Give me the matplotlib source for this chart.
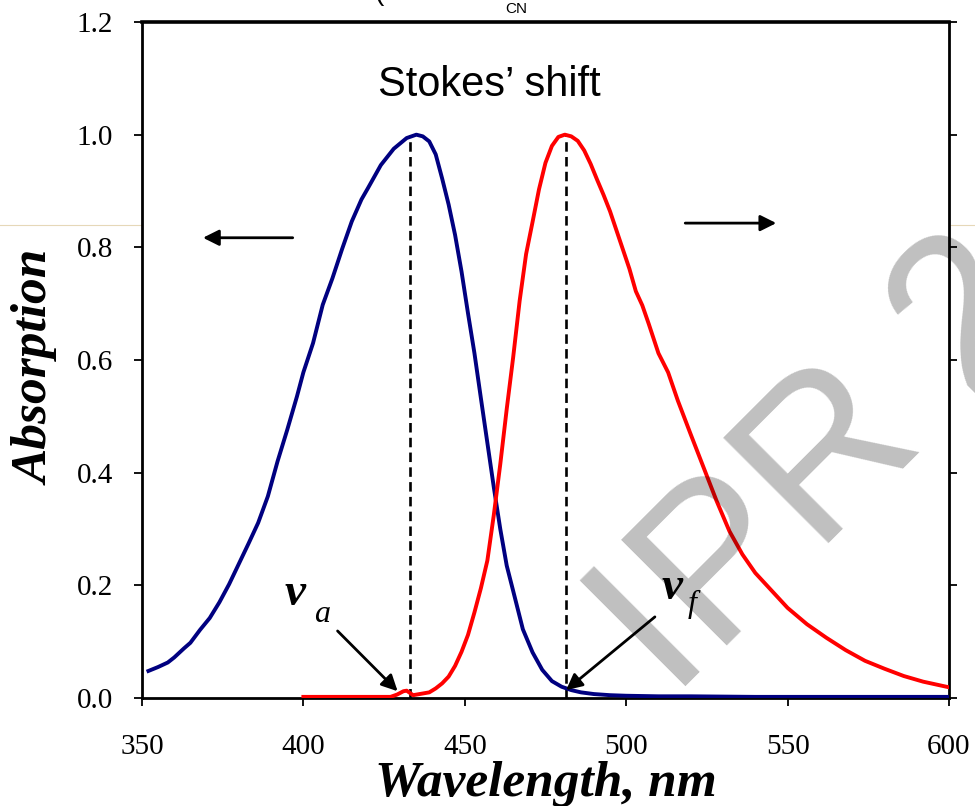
import matplotlib
matplotlib.use("Agg")
import matplotlib.pyplot as plt
from matplotlib.lines import Line2D

# absorption (blue) and emission (red) spectra
abs_wl = [352, 355, 358, 360, 363, 365, 368, 371, 374, 377, 380, 383, 386, 389,
          392, 395, 398, 400, 403, 406, 409, 412, 415, 418, 420, 424, 428, 432,
          435, 437, 439, 441, 443, 445, 447, 449, 451, 453, 455, 457, 459, 461,
          463, 465, 468, 471, 474, 477, 480, 483, 486, 490, 495, 500, 510, 520,
          540, 560, 580, 600]
abs_val = [0.048, 0.055, 0.063, 0.072, 0.088, 0.098, 0.121, 0.142, 0.170, 0.202,
           0.238, 0.274, 0.311, 0.358, 0.420, 0.476, 0.535, 0.578, 0.630, 0.698,
           0.745, 0.797, 0.846, 0.885, 0.905, 0.946, 0.975, 0.994, 1.000, 0.997,
           0.988, 0.965, 0.922, 0.876, 0.822, 0.757, 0.683, 0.612, 0.532, 0.453,
           0.374, 0.300, 0.235, 0.190, 0.122, 0.081, 0.050, 0.030, 0.020, 0.014,
           0.010, 0.007, 0.005, 0.004, 0.003, 0.003, 0.002, 0.002, 0.002, 0.002]

em_wl = [400, 410, 420, 427, 429, 431, 432, 433, 434, 435, 437, 439, 441, 443,
         445, 447, 449, 451, 453, 455, 457, 459, 461, 463, 465, 467, 469, 471,
         473, 475, 477, 479, 481, 483, 485, 487, 489, 491, 493, 495, 497, 499,
         501, 503, 505, 507, 510, 513, 516, 520, 524, 528, 532, 536, 540, 545,
         550, 556, 562, 568, 574, 580, 586, 592, 600]
em_val = [0.002, 0.002, 0.002, 0.002, 0.006, 0.012, 0.013, 0.009, 0.005, 0.006,
          0.008, 0.010, 0.017, 0.026, 0.038, 0.057, 0.082, 0.112, 0.152, 0.195,
          0.244, 0.325, 0.415, 0.513, 0.605, 0.705, 0.788, 0.845, 0.903, 0.950,
          0.980, 0.996, 1.000, 0.997, 0.989, 0.972, 0.948, 0.920, 0.893, 0.864,
          0.830, 0.796, 0.762, 0.722, 0.697, 0.664, 0.612, 0.578, 0.528, 0.468,
          0.409, 0.350, 0.296, 0.255, 0.222, 0.191, 0.160, 0.131, 0.107, 0.085,
          0.066, 0.052, 0.039, 0.029, 0.019]

peak_abs = 433.0
peak_em = 481.5

x_ticks = [350, 400, 450, 500, 550, 600]
y_ticks = [0.0, 0.2, 0.4, 0.6, 0.8, 1.0, 1.2]
y_ticklabels = ["0.0", "0.2", "0.4", "0.6", "0.8", "1.0", "1.2"]
right_ticklabels = ["0", "2", "4", "6", "8", "10", "12"]

SERIF = "Liberation Serif"
SANS = "Liberation Sans"

fig = plt.figure(figsize=(9.75, 8.06), dpi=100)
ax = fig.add_axes([0.1456, 0.134, 0.8277, 0.8387])

ax.plot(abs_wl, abs_val, color="#000080", lw=2.8, zorder=3)
ax.plot(em_wl, em_val, color="#ff0000", lw=2.8, zorder=3)

for xp in (peak_abs, peak_em):
    ax.plot([xp, xp], [0, 1.0], color="black", lw=1.9, dashes=(3.6, 2.0), zorder=2)

ax.set_xlim(350, 600)
ax.set_ylim(0, 1.2)
ax.set_xticks(x_ticks)
ax.set_yticks(y_ticks)
ax.set_yticklabels(y_ticklabels)
for lab in ax.get_xticklabels() + ax.get_yticklabels():
    lab.set_fontfamily(SERIF)
    lab.set_fontsize(21)
ax.tick_params(axis="both", direction="out", length=6, width=1.3)
ax.tick_params(axis="x", pad=20)
ax.tick_params(axis="y", pad=15)

for side in ("left", "right", "bottom"):
    ax.spines[side].set_linewidth(2.0)
ax.spines["top"].set_linewidth(2.6)

ax2 = ax.twinx()
ax2.set_ylim(0, 1.2)
ax2.set_yticks(y_ticks)
ax2.set_yticklabels(right_ticklabels, fontfamily=SERIF, fontsize=21)
ax2.tick_params(axis="y", direction="out", length=6, width=1.3, pad=16)
for sp in ax2.spines.values():
    sp.set_visible(False)

ax.set_xlabel("Wavelength, nm", fontfamily=SERIF, fontsize=37,
              fontweight="bold", fontstyle="italic")
ax.xaxis.set_label_coords(0.5, -0.093)
ax.set_ylabel("Absorption", fontfamily=SERIF, fontsize=37,
              fontweight="bold", fontstyle="italic")
ax.yaxis.set_label_coords(-0.102, 0.489)

ax.text(457.7, 1.088, "Stokes\u2019 shift", family=SANS, fontsize=30,
        ha="center", va="center")

# direction arrows (which axis belongs to which curve)
arrow = dict(arrowstyle="-|>", mutation_scale=24, lw=2, color="black",
             shrinkA=0, shrinkB=0)
ax.annotate("", xy=(368.9, 0.817), xytext=(396.7, 0.817), arrowprops=arrow)
ax.annotate("", xy=(546.5, 0.843), xytext=(518.3, 0.843), arrowprops=arrow)

# nu_a / nu_f labels with their pointers
ax.text(394.2, 0.165, "\u03bd", family=SERIF, fontsize=34, fontweight="bold",
        fontstyle="italic", ha="left", va="baseline")
ax.text(403.2, 0.135, "a", family=SERIF, fontsize=23, fontstyle="italic",
        ha="left", va="baseline")
ax.text(510.9, 0.176, "\u03bd", family=SERIF, fontsize=34, fontweight="bold",
        fontstyle="italic", ha="left", va="baseline")
ax.text(519.0, 0.153, "f", family=SERIF, fontsize=23, fontstyle="italic",
        ha="left", va="baseline")
ax.annotate("", xy=(429.2, 0.012), xytext=(410.6, 0.119), arrowprops=arrow)
ax.annotate("", xy=(481.4, 0.014), xytext=(508.9, 0.144), arrowprops=arrow)

# cut-off title fragment at the very top
fig.text(0.529, 0.989, "CN", family=SANS, fontsize=11, ha="center", va="center")
fig.text(0.389, 1.0, "(", family=SANS, fontsize=20, ha="center", va="baseline")

# faint guide line running across the page
fig.add_artist(Line2D([0, 1], [1 - 225 / 806] * 2, transform=fig.transFigure,
                      color="#e6d8b8", lw=0.8, zorder=0))

# watermark
fig.text(0.689, 0.132, "IPR 2", family=SANS, fontsize=156, rotation=45,
         rotation_mode="anchor", ha="left", va="baseline", color="black",
         alpha=0.25, zorder=10)

fig.savefig("out.png", dpi=100)
